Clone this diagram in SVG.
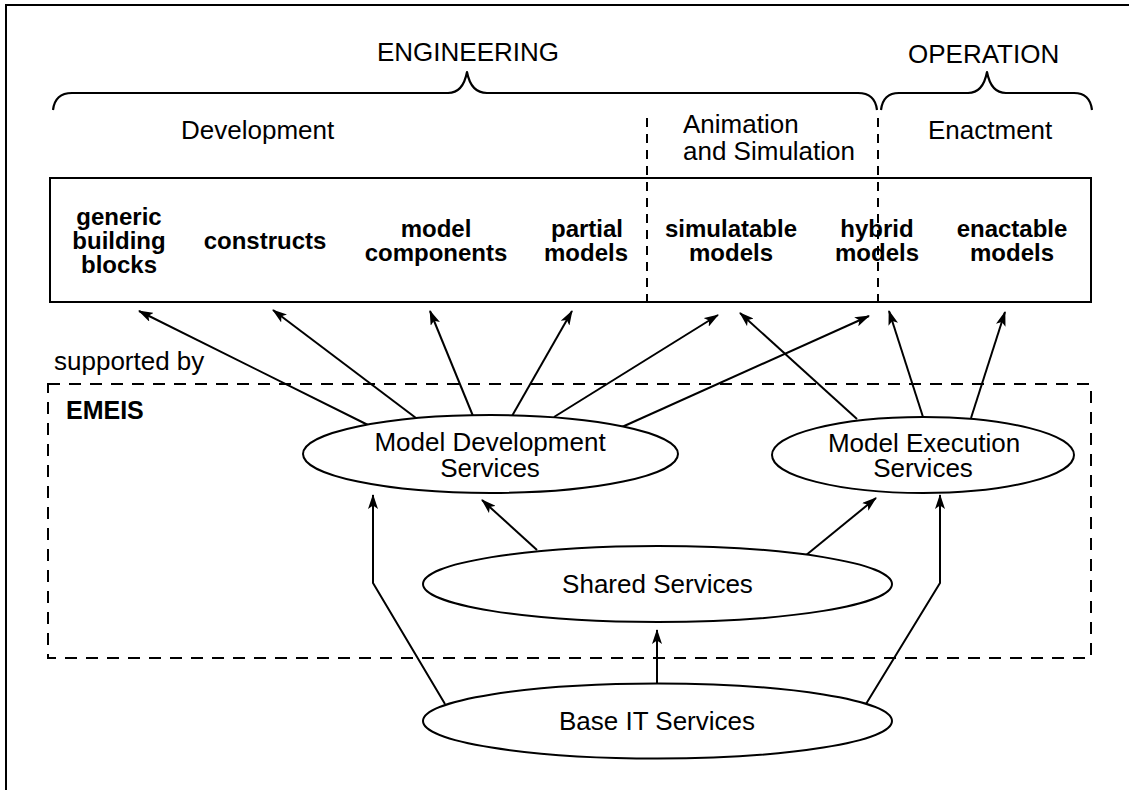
<svg xmlns="http://www.w3.org/2000/svg" width="1129" height="790" viewBox="0 0 1129 790">
  <style>
    .lbl { font-family: "Liberation Sans", Arial, Helvetica, sans-serif; font-size: 26px; fill: #000; }
    .item { font-family: "Liberation Sans", Arial, Helvetica, sans-serif; font-size: 24px; font-weight: bold; fill: #000; text-anchor: middle; }
    .mid { text-anchor: middle; }
    .frame { fill: none; stroke: #000; stroke-width: 2; }
    .brace { fill: none; stroke: #000; stroke-width: 2.2; stroke-linejoin: round; }
    .divider { fill: none; stroke: #000; stroke-width: 2; stroke-dasharray: 9 7; }
    .scope { fill: none; stroke: #000; stroke-width: 2; stroke-dasharray: 12 9; }
    .svc { fill: #fff; stroke: #000; stroke-width: 2; }
    .conn { fill: none; stroke: #000; stroke-width: 2; marker-end: url(#head); }
  </style>
  <defs>
    <marker id="head" viewBox="0 -5 15 10" refX="14" refY="0" markerWidth="15" markerHeight="10" markerUnits="userSpaceOnUse" orient="auto">
      <path d="M0,-5 L15,0 L0,5 L3.5,0 z" fill="#000"/>
    </marker>
  </defs>

  <rect width="1129" height="790" fill="#fff"/>

  <!-- page frame: top and left edges -->
  <path class="frame" d="M6,790 L6,5 L1129,5"/>

  <!-- phase headings and braces -->
  <g id="engineering">
    <text class="lbl" x="377" y="61">ENGINEERING</text>
    <path class="brace" d="M53,110 Q55,93 72,93 L448,93 Q463,93 467,72 Q471,93 487,93 L858,93 Q875,93 877,110"/>
  </g>
  <g id="operation">
    <text class="lbl" x="908" y="63">OPERATION</text>
    <path class="brace" d="M881,110 Q883,93 899,93 L968,93 Q983,93 987,72 Q991,93 1006,93 L1074,93 Q1090,93 1092,110"/>
  </g>

  <g id="stages">
    <text class="lbl" x="181" y="139">Development</text>
    <text class="lbl" x="683" y="133">Animation</text>
    <text class="lbl" x="683" y="160">and Simulation</text>
    <text class="lbl" x="928" y="139">Enactment</text>
  </g>

  <!-- model kinds -->
  <g id="models">
    <rect class="frame" x="50" y="178" width="1041" height="124"/>
    <path class="divider" d="M647,118 L647,302 M878,118 L878,302"/>
    <text class="item" x="119" y="225">generic</text>
    <text class="item" x="119" y="249">building</text>
    <text class="item" x="119" y="273">blocks</text>
    <text class="item" x="265" y="249">constructs</text>
    <text class="item" x="436" y="237">model</text>
    <text class="item" x="436" y="261">components</text>
    <text class="item" x="587" y="237">partial</text>
    <text class="item" x="586" y="261">models</text>
    <text class="item" x="731" y="237">simulatable</text>
    <text class="item" x="731" y="261">models</text>
    <text class="item" x="877" y="237">hybrid</text>
    <text class="item" x="877" y="261">models</text>
    <text class="item" x="1012" y="237">enactable</text>
    <text class="item" x="1012" y="261">models</text>
  </g>

  <text class="lbl" x="54" y="370">supported by</text>

  <!-- EMEIS scope -->
  <g id="emeis">
    <rect class="scope" x="48" y="384" width="1043" height="274"/>
    <text class="lbl" x="66" y="419" style="font-weight:bold;font-size:25px">EMEIS</text>
  </g>

  <g id="connectors">
    <!-- model development services -->
    <line class="conn" x1="368" y1="425" x2="139" y2="311"/>
    <line class="conn" x1="416" y1="418" x2="273" y2="310"/>
    <line class="conn" x1="473" y1="416" x2="430" y2="311"/>
    <line class="conn" x1="512" y1="416" x2="572" y2="311"/>
    <line class="conn" x1="554" y1="417" x2="718" y2="315"/>
    <line class="conn" x1="622" y1="427" x2="869" y2="316"/>
    <!-- model execution services -->
    <line class="conn" x1="857" y1="419" x2="740" y2="313"/>
    <line class="conn" x1="923" y1="417" x2="889" y2="311"/>
    <line class="conn" x1="971" y1="418" x2="1005" y2="312"/>
    <!-- shared services -->
    <line class="conn" x1="537" y1="550" x2="482" y2="500"/>
    <line class="conn" x1="805" y1="556" x2="876" y2="498"/>
    <!-- base IT services -->
    <line class="conn" x1="657" y1="684" x2="657" y2="630"/>
    <polyline class="conn" points="445,704 373,583 373,495"/>
    <polyline class="conn" points="866,704 940,583 940,495"/>
  </g>

  <g id="model-development-services">
    <ellipse class="svc" cx="490.5" cy="454" rx="187.5" ry="39"/>
    <text class="lbl mid" x="490" y="451">Model Development</text>
    <text class="lbl mid" x="490" y="477">Services</text>
  </g>

  <g id="model-execution-services">
    <ellipse class="svc" cx="923" cy="455" rx="151" ry="38"/>
    <text class="lbl mid" x="924" y="452">Model Execution</text>
    <text class="lbl mid" x="923" y="477">Services</text>
  </g>

  <g id="shared-services">
    <ellipse class="svc" cx="657.5" cy="584" rx="234.5" ry="38"/>
    <text class="lbl mid" x="657.5" y="593">Shared Services</text>
  </g>

  <g id="base-it-services">
    <ellipse class="svc" cx="657.5" cy="721" rx="234.5" ry="37.5"/>
    <text class="lbl mid" x="657" y="730">Base IT Services</text>
  </g>
</svg>
